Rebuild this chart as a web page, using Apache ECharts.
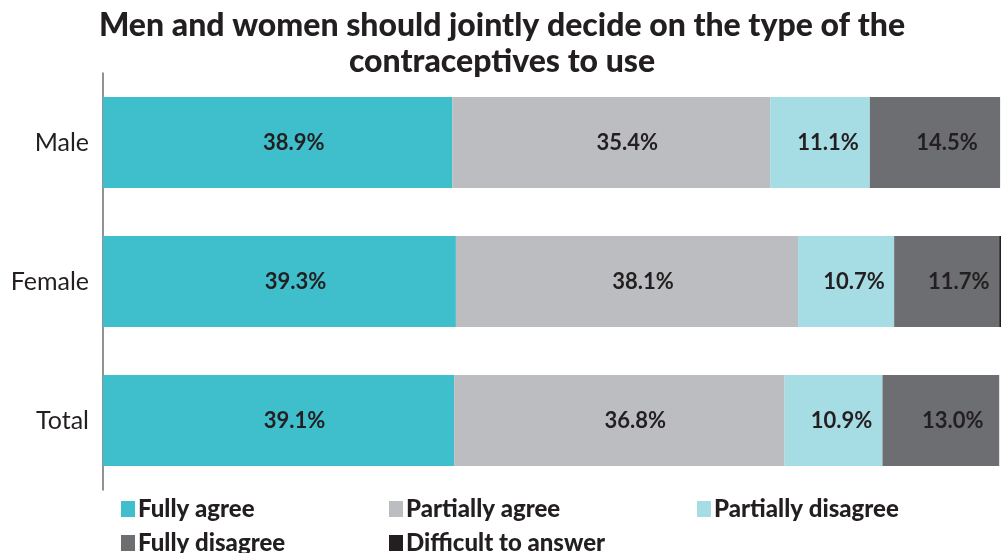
<!DOCTYPE html>
<html><head><meta charset="utf-8">
<script src="https://cdn.jsdelivr.net/npm/echarts@6/dist/echarts.min.js"></script>
<style>html,body{margin:0;padding:0;background:#fff}#c{width:1004px;height:553px}</style>
</head><body><div id="c"></div>
<script>
const categories = ['Male', 'Female', 'Total'];
const seriesNames = ['Fully agree', 'Partially agree', 'Partially disagree', 'Fully disagree', 'Difficult to answer'];
const fullyAgree = [38.9, 39.3, 39.1];
const partiallyAgree = [35.4, 38.1, 36.8];
const partiallyDisagree = [11.1, 10.7, 10.9];
const fullyDisagree = [14.5, 11.7, 13.0];
const difficult = [0, 0.3, 0];
const colors = ['#3fbfcc', '#bcbdc1', '#a6dce3', '#6d6e72', '#231f20'];
const values = [fullyAgree, partiallyAgree, partiallyDisagree, fullyDisagree, difficult];
const labelShift = [16, 16, 8, 12, 0];

const FONT = 'Lato, "Open Sans", sans-serif';
const chart = echarts.init(document.getElementById('c'));

const legendPos = [
  {left: 116, top: 492}, {left: 384, top: 492}, {left: 692, top: 492},
  {left: 116, top: 526}, {left: 384, top: 526}
];

chart.setOption({
  animation: false,
  title: {
    text: 'Men and women should jointly decide on the type of the\ncontraceptives to use',
    left: 'center', top: 3,
    textStyle: {fontFamily: FONT, fontWeight: 900, fontSize: 32, color: '#231f20', lineHeight: 36}
  },
  legend: seriesNames.map((n, i) => ({
    data: [n], left: legendPos[i].left, top: legendPos[i].top,
    icon: 'rect', itemWidth: 14, itemHeight: 16, itemGap: 4,
    textStyle: {fontFamily: FONT, fontWeight: 900, fontSize: 24, color: '#231f20', padding: [0, 0, 0, -2]},
    selectedMode: false
  })),
  grid: {left: 103, right: 3, top: 73, height: 417},
  xAxis: {type: 'value', min: 0, max: 100, show: false},
  yAxis: {
    type: 'category', data: categories, inverse: true,
    axisLine: {show: true, lineStyle: {color: '#6d6e72', width: 1.5}},
    axisTick: {show: false},
    axisLabel: {fontFamily: FONT, fontSize: 25, color: '#231f20', margin: 14}
  },
  series: seriesNames.map((n, i) => ({
    name: n, type: 'bar', stack: 'all', barWidth: 91,
    data: values[i],
    itemStyle: {color: colors[i]},
    label: {
      show: i < 4, position: 'inside', offset: [labelShift[i], 0],
      formatter: p => p.value.toFixed(1) + '%',
      fontFamily: FONT, fontWeight: 'bold', fontSize: 22, color: '#231f20'
    }
  }))
});
</script></body></html>
